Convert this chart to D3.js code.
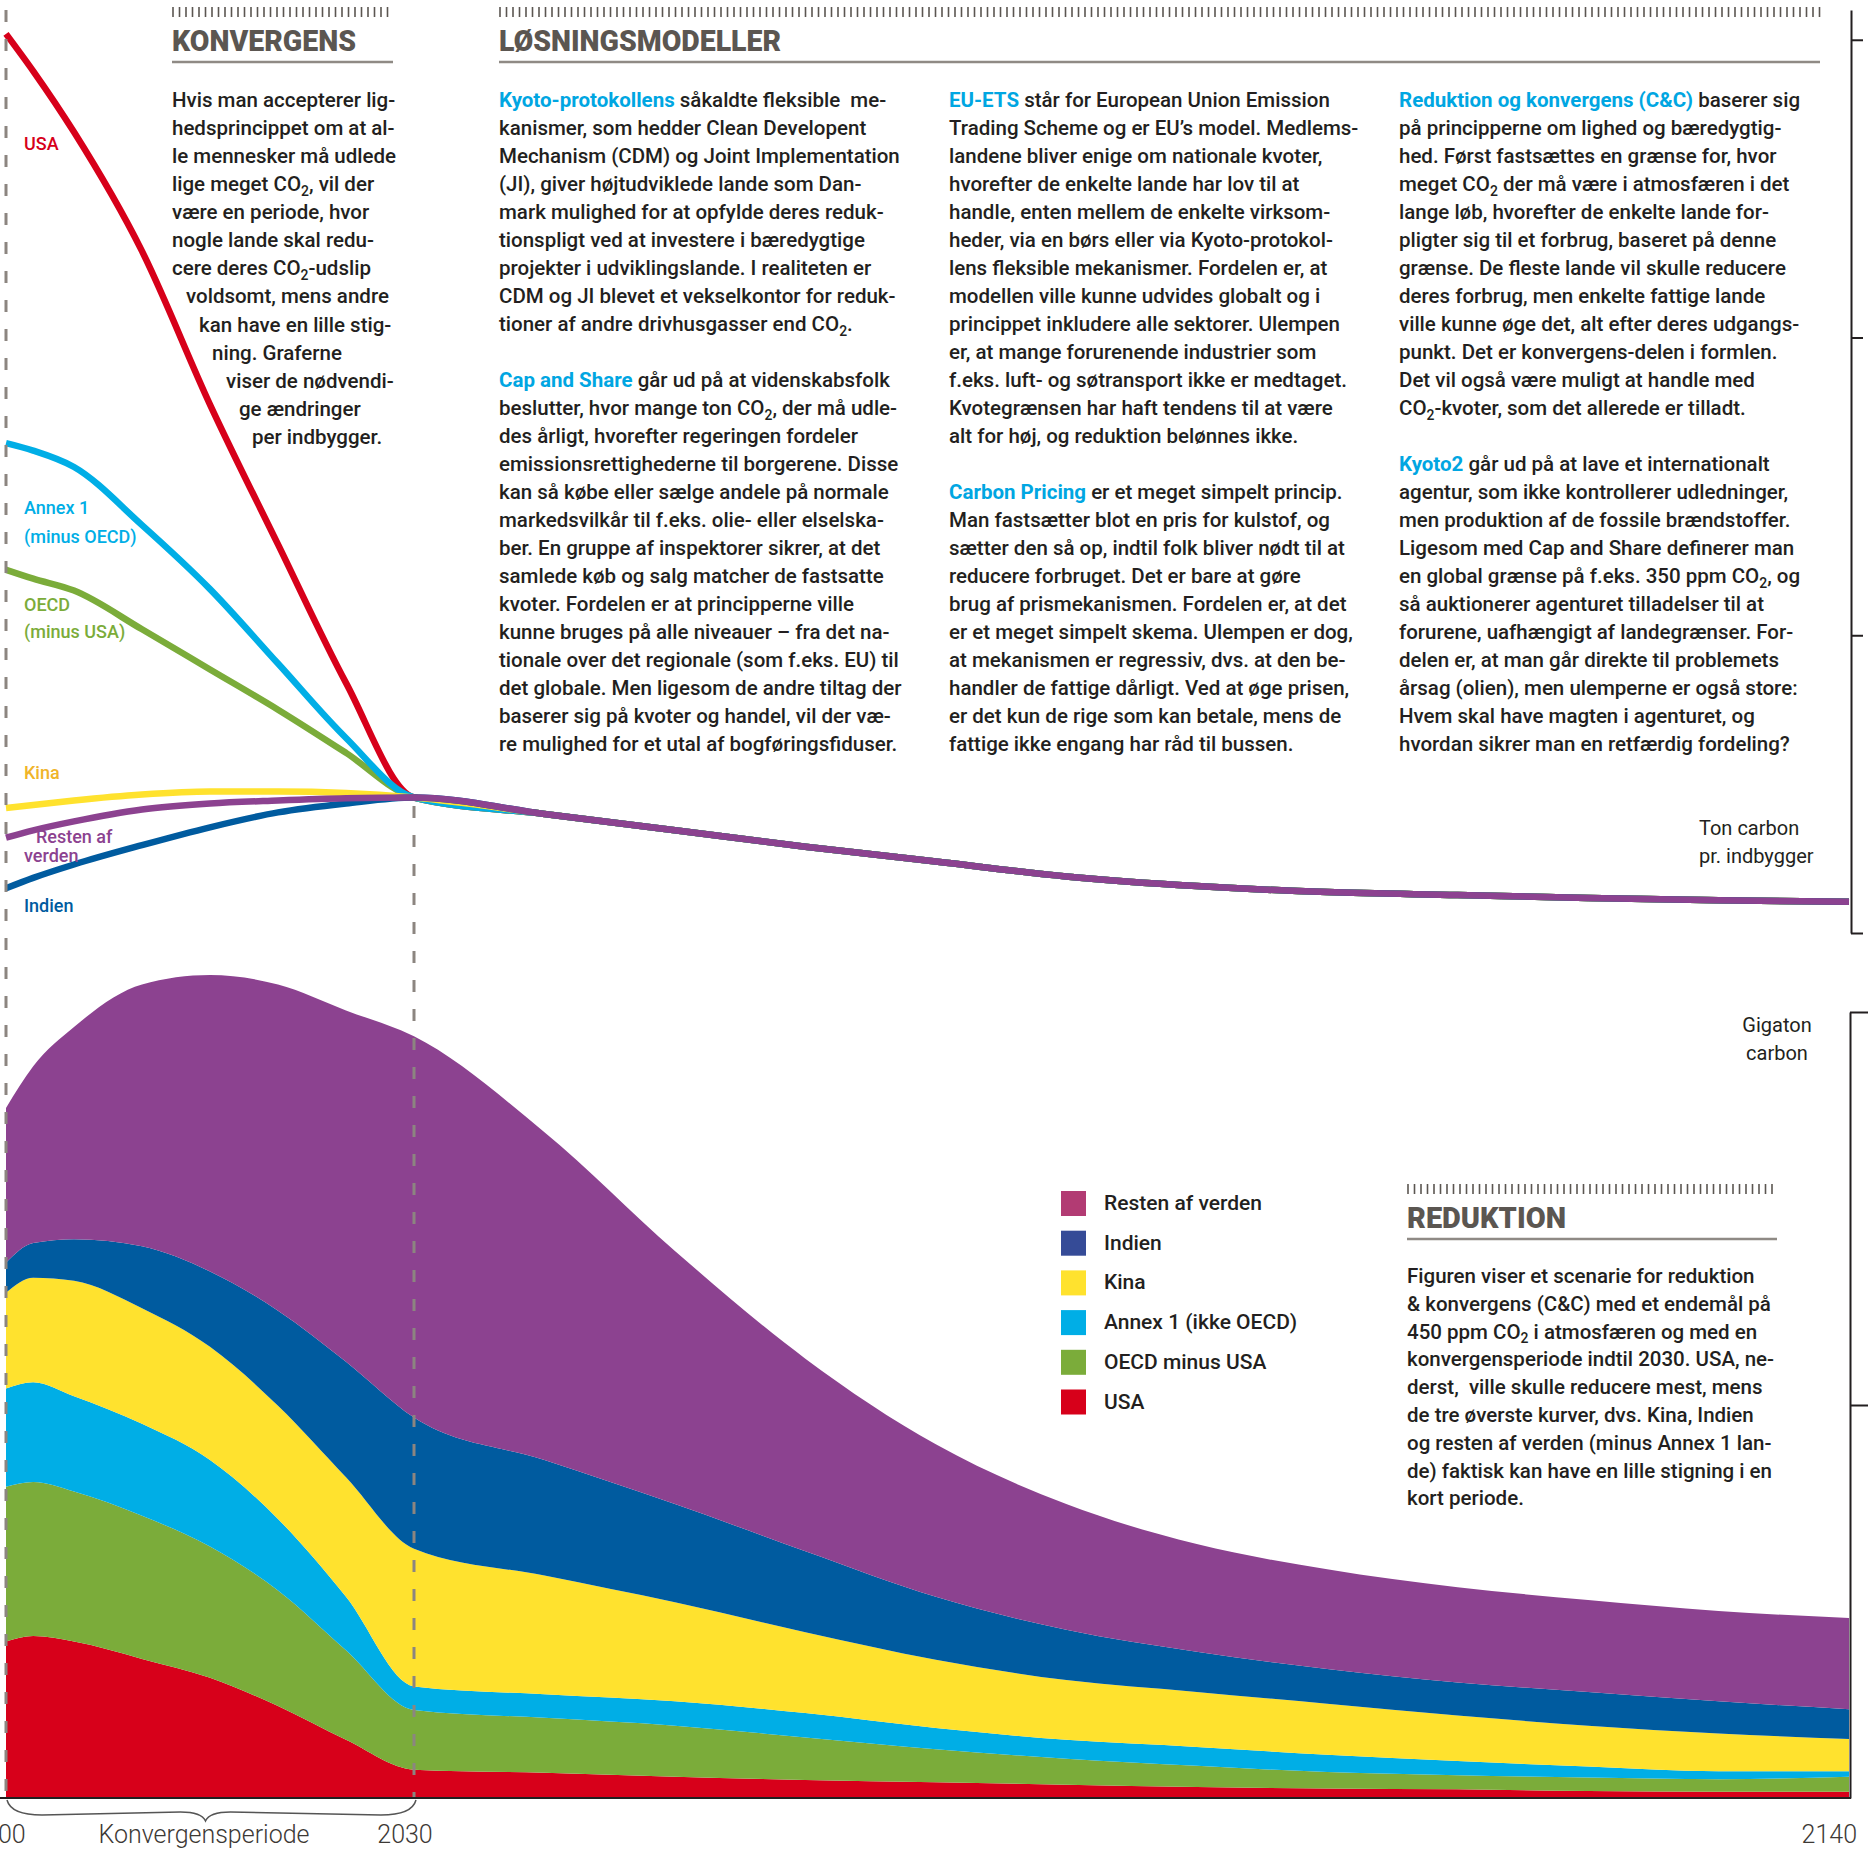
<!DOCTYPE html>
<html>
<head>
<meta charset="utf-8">
<script src="https://cdn.jsdelivr.net/npm/d3@7"></script>
<style>
  body { margin: 0; background: #fff; }
  svg { display: block; }
  text { font-family: Roboto, "Noto Sans", sans-serif; }
</style>
</head>
<body>
<div id="chart"></div>
<script>
const W = 1868, H = 1852;

// years shared by both panels
const years = [2000, 2002, 2005, 2010, 2015, 2020, 2025, 2030, 2040, 2050, 2060, 2070, 2080, 2090, 2100, 2110, 2120, 2130, 2140];

// ton carbon pr. indbygger (top panel)
const capUSA    = [6.04, 5.79, 5.38, 4.58, 3.55, 2.61, 1.68, 0.91, 0.80, 0.69, 0.58, 0.48, 0.38, 0.315, 0.275, 0.255, 0.235, 0.22, 0.21];
const capAnnex  = [3.29, 3.24, 3.13, 2.74, 2.31, 1.81, 1.31, 0.91, 0.80, 0.69, 0.58, 0.48, 0.38, 0.315, 0.275, 0.255, 0.235, 0.22, 0.21];
const capOECD   = [2.44, 2.38, 2.30, 2.04, 1.77, 1.50, 1.21, 0.91, 0.80, 0.69, 0.58, 0.48, 0.38, 0.315, 0.275, 0.255, 0.235, 0.22, 0.21];
const capKina   = [0.84, 0.86, 0.89, 0.93, 0.95, 0.95, 0.94, 0.91, 0.80, 0.69, 0.58, 0.48, 0.38, 0.315, 0.275, 0.255, 0.235, 0.22, 0.21];
const capResten = [0.64, 0.69, 0.75, 0.83, 0.87, 0.89, 0.905, 0.91, 0.80, 0.69, 0.58, 0.48, 0.38, 0.315, 0.275, 0.255, 0.235, 0.22, 0.21];
const capIndien = [0.30, 0.37, 0.46, 0.59, 0.71, 0.81, 0.87, 0.91, 0.80, 0.69, 0.58, 0.48, 0.38, 0.315, 0.275, 0.255, 0.235, 0.22, 0.21];

// gigaton carbon (bottom panel, stacked bottom -> top)
const gtUSA    = [1.99, 2.06, 1.99, 1.77, 1.53, 1.17, 0.74, 0.36, 0.32, 0.27, 0.23, 0.20, 0.17, 0.14, 0.12, 0.11, 0.09, 0.08, 0.08];
const gtOECD   = [1.97, 1.96, 1.91, 1.82, 1.67, 1.47, 1.14, 0.76, 0.70, 0.65, 0.54, 0.42, 0.33, 0.27, 0.21, 0.18, 0.17, 0.16, 0.19];
const gtAnnex  = [1.25, 1.27, 1.21, 1.17, 1.10, 0.91, 0.68, 0.30, 0.30, 0.31, 0.31, 0.27, 0.24, 0.24, 0.22, 0.18, 0.14, 0.10, 0.07];
const gtKina   = [1.22, 1.33, 1.47, 1.47, 1.44, 1.44, 1.52, 1.75, 1.51, 1.26, 1.03, 0.87, 0.76, 0.70, 0.65, 0.58, 0.52, 0.48, 0.41];
const gtIndien = [0.38, 0.44, 0.53, 0.79, 0.96, 1.21, 1.47, 1.67, 1.47, 1.25, 1.03, 0.80, 0.64, 0.51, 0.44, 0.42, 0.43, 0.41, 0.38];
const gtResten = [1.97, 2.25, 2.70, 3.33, 3.77, 4.15, 4.47, 4.85, 4.17, 3.22, 2.45, 1.94, 1.60, 1.37, 1.27, 1.21, 1.17, 1.15, 1.16];

const axisYears = [2000, 2030, 2140];
const legendNames = ['Resten af verden', 'Indien', 'Kina', 'Annex 1 (ikke OECD)', 'OECD minus USA', 'USA'];

const INK = '#231f20', BLUE = '#00a6e2', HEAD = '#5b5651', DASH = '#8c8580';
const col = {usa: '#d7001a', oecd: '#7bac3a', annex: '#00aee6', kina: '#ffe22e', indien: '#005b9f', resten: '#8c4290'};
const legendColors = ['#b23b73', '#354b97', '#ffe22e', '#00aee6', '#7bac3a', '#d7001a'];

const svg = d3.select('#chart').append('svg').attr('width', W).attr('height', H);

const x = d3.scaleLinear().domain(axisYears).range([6, 414, 1849]);
const yCap = d3.scaleLinear().domain([0, 6.2]).range([933, 10]);
const yGt = d3.scaleLinear().domain([0, 10]).range([1798, 1012]);

// ---- bottom: stacked areas
const keys = ['usa', 'oecd', 'annex', 'kina', 'indien', 'resten'];
const series = {usa: gtUSA, oecd: gtOECD, annex: gtAnnex, kina: gtKina, indien: gtIndien, resten: gtResten};
const table = years.map((yr, i) => {
  const row = {year: yr};
  keys.forEach(k => row[k] = series[k][i]);
  return row;
});
const stacked = d3.stack().keys(keys)(table);
const area = d3.area()
  .x(d => x(d.data.year))
  .y0(d => yGt(d[0]))
  .y1(d => yGt(d[1]))
  .curve(d3.curveMonotoneX);
svg.append('g').selectAll('path').data(stacked).join('path')
  .attr('d', area)
  .attr('fill', d => col[d.key]);

// ---- top: per capita lines
const capSeries = [
  ['usa', capUSA], ['oecd', capOECD], ['annex', capAnnex],
  ['kina', capKina], ['indien', capIndien], ['resten', capResten]
];
const line = d3.line()
  .x((d, i) => x(years[i]))
  .y(d => yCap(d))
  .curve(d3.curveMonotoneX);
svg.append('g').selectAll('path').data(capSeries).join('path')
  .attr('d', d => line(d[1]))
  .attr('fill', 'none')
  .attr('stroke', d => col[d[0]])
  .attr('stroke-width', 6.5)
  .attr('stroke-linecap', 'butt');

// line labels
const lineLabels = [
  ['USA', 24, 150, col.usa],
  ['Annex 1', 24, 514, col.annex],
  ['(minus OECD)', 24, 543, col.annex],
  ['OECD', 24, 611, col.oecd],
  ['(minus USA)', 24, 638, col.oecd],
  ['Kina', 24, 779, '#f0b429'],
  ['Resten af', 36, 843, col.resten],
  ['verden', 24, 862, col.resten],
  ['Indien', 24, 912, col.indien]
];
svg.append('g').selectAll('text').data(lineLabels).join('text')
  .attr('x', d => d[1]).attr('y', d => d[2])
  .attr('fill', d => d[3])
  .attr('font-size', 18).attr('font-weight', 500)
  .text(d => d[0]);

// dashed guides
svg.append('line').attr('x1', x(2000)).attr('x2', x(2000)).attr('y1', 10).attr('y2', 1798)
  .attr('stroke', DASH).attr('stroke-width', 3).attr('stroke-dasharray', '12,17');
svg.append('line').attr('x1', x(2030)).attr('x2', x(2030)).attr('y1', 806).attr('y2', 1798)
  .attr('stroke', DASH).attr('stroke-width', 3).attr('stroke-dasharray', '12,17');

// axes
const axTop = svg.append('g').attr('transform', 'translate(1851,0)')
  .call(d3.axisRight(yCap).tickValues([0, 2, 4, 6]).tickSize(12).tickSizeOuter(0).tickFormat(''));
const axBot = svg.append('g').attr('transform', 'translate(1850,0)')
  .call(d3.axisRight(yGt).tickValues([5, 10]).tickSize(18).tickSizeOuter(0).tickFormat(''));
[axTop, axBot].forEach(a => a.selectAll('path, line').attr('stroke', INK).attr('stroke-width', 2));
svg.append('line').attr('x1', 0).attr('x2', 1851).attr('y1', yGt(0)).attr('y2', yGt(0))
  .attr('stroke', INK).attr('stroke-width', 2);

// unit labels
svg.append('text').attr('x', 1699).attr('y', 835).attr('font-size', 20).attr('fill', INK).text('Ton carbon');
svg.append('text').attr('x', 1699).attr('y', 863).attr('font-size', 20).attr('fill', INK).text('pr. indbygger');
svg.append('text').attr('x', 1777).attr('y', 1032).attr('font-size', 20).attr('fill', INK).attr('text-anchor', 'middle').text('Gigaton');
svg.append('text').attr('x', 1777).attr('y', 1060).attr('font-size', 20).attr('fill', INK).attr('text-anchor', 'middle').text('carbon');

// x labels
const xl = svg.append('g').attr('font-size', 25).attr('font-weight', 300).attr('fill', '#3d3935');
xl.append('text').attr('x', x(2000) - 8).attr('y', 1843).attr('text-anchor', 'middle').text('2000');
xl.append('text').attr('x', x(2030) - 9).attr('y', 1843).attr('text-anchor', 'middle').text('2030');
xl.append('text').attr('x', x(2140) + 8).attr('y', 1843).attr('text-anchor', 'end').text('2140');
xl.append('text').attr('x', (x(2000) + x(2030)) / 2 - 6).attr('y', 1843).attr('text-anchor', 'middle').text('Konvergensperiode');

// brace
const bx0 = x(2000) + 1, bx1 = x(2030) + 2, bm = (bx0 + bx1) / 2 - 6;
svg.append('path')
  .attr('d', `M${bx0},1800 Q${bx0 + 4},1815 ${bx0 + 35},1815 L${bm - 25},1812 Q${bm - 4},1812 ${bm},1821 Q${bm + 4},1812 ${bm + 25},1812 L${bx1 - 35},1815 Q${bx1 - 4},1815 ${bx1},1800`)
  .attr('fill', 'none').attr('stroke', '#555').attr('stroke-width', 1.5);

// legend
const lg = svg.append('g').selectAll('g').data(legendNames).join('g')
  .attr('transform', (d, i) => `translate(1061,${1191 + i * 39.7})`);
lg.append('rect').attr('width', 25).attr('height', 25).attr('fill', (d, i) => legendColors[i]);
lg.append('text').attr('x', 43).attr('y', 19).attr('font-size', 21).attr('font-weight', 500).attr('fill', INK).text(d => d);

// ---- text blocks
function fillRich(t, str, fs) {
  const parts = str.split(/(\*\*[^*]+\*\*|₂)/).filter(s => s.length);
  let sub = false;
  parts.forEach(p => {
    if (p === '₂') {
      t.append('tspan').attr('dy', fs * 0.22).attr('font-size', fs * 0.68).text('2');
      sub = true;
    } else {
      const ts = t.append('tspan').text(p.replace(/\*\*/g, ''));
      if (sub) { ts.attr('dy', -fs * 0.22); sub = false; }
      if (p.startsWith('**')) ts.attr('font-weight', 700).attr('fill', BLUE);
    }
  });
}

function block(lines, x0, y0, lh, right, fs, indents) {
  const g = svg.append('g').attr('font-size', fs).attr('fill', INK).attr('font-weight', 500);
  lines.forEach((ln, i) => {
    if (!ln) return;
    const lx = x0 + (indents ? indents[i] : 0);
    const t = g.append('text').attr('x', lx).attr('y', y0 + i * lh).style('white-space', 'pre');
    fillRich(t, ln, fs);
    const w = t.node().getComputedTextLength();
    if (w > right - lx) t.attr('textLength', right - lx).attr('lengthAdjust', 'spacingAndGlyphs');
  });
}

function heading(label, x0, x1, yTop, w) {
  const g = svg.append('g');
  g.selectAll('line').data(d3.range(x0 + 1, x1, 6.5)).join('line')
    .attr('x1', d => d).attr('x2', d => d).attr('y1', yTop).attr('y2', yTop + 10)
    .attr('stroke', HEAD).attr('stroke-width', 1.6);
  g.append('text').attr('x', x0).attr('y', yTop + 44).attr('font-size', 30).attr('font-weight', 900)
    .attr('fill', HEAD).attr('textLength', w).attr('lengthAdjust', 'spacingAndGlyphs').text(label);
  g.append('line').attr('x1', x0).attr('x2', x1).attr('y1', yTop + 55).attr('y2', yTop + 55)
    .attr('stroke', '#8f8a85').attr('stroke-width', 2.5);
}

heading('KONVERGENS', 172, 393, 7, 184);
heading('LØSNINGSMODELLER', 499, 1820, 7, 282);
heading('REDUKTION', 1407, 1777, 1184, 159);

block([
  'Hvis man accepterer lig-',
  'hedsprincippet om at al-',
  'le mennesker må udlede',
  'lige meget CO₂, vil der',
  'være en periode, hvor',
  'nogle lande skal redu-',
  'cere deres CO₂-udslip',
  'voldsomt, mens andre',
  'kan have en lille stig-',
  'ning. Graferne',
  'viser de nødvendi-',
  'ge ændringer',
  'per indbygger.'
], 172, 107, 28.07, 404, 20.5, [0, 0, 0, 0, 0, 0, 0, 14, 27, 40, 54, 67, 80]);

block([
  '**Kyoto-protokollens** såkaldte fleksible  me-',
  'kanismer, som hedder Clean Developent',
  'Mechanism (CDM) og Joint Implementation',
  '(JI), giver højtudviklede lande som Dan-',
  'mark mulighed for at opfylde deres reduk-',
  'tionspligt ved at investere i bæredygtige',
  'projekter i udviklingslande. I realiteten er',
  'CDM og JI blevet et vekselkontor for reduk-',
  'tioner af andre drivhusgasser end CO₂.',
  '',
  '**Cap and Share** går ud på at videnskabsfolk',
  'beslutter, hvor mange ton CO₂, der må udle-',
  'des årligt, hvorefter regeringen fordeler',
  'emissionsrettighederne til borgerene. Disse',
  'kan så købe eller sælge andele på normale',
  'markedsvilkår til f.eks. olie- eller elselska-',
  'ber. En gruppe af inspektorer sikrer, at det',
  'samlede køb og salg matcher de fastsatte',
  'kvoter. Fordelen er at principperne ville',
  'kunne bruges på alle niveauer – fra det na-',
  'tionale over det regionale (som f.eks. EU) til',
  'det globale. Men ligesom de andre tiltag der',
  'baserer sig på kvoter og handel, vil der væ-',
  're mulighed for et utal af bogføringsfiduser.'
], 499, 107, 28, 916, 20.5);

block([
  '**EU-ETS** står for European Union Emission',
  'Trading Scheme og er EU’s model. Medlems-',
  'landene bliver enige om nationale kvoter,',
  'hvorefter de enkelte lande har lov til at',
  'handle, enten mellem de enkelte virksom-',
  'heder, via en børs eller via Kyoto-protokol-',
  'lens fleksible mekanismer. Fordelen er, at',
  'modellen ville kunne udvides globalt og i',
  'princippet inkludere alle sektorer. Ulempen',
  'er, at mange forurenende industrier som',
  'f.eks. luft- og søtransport ikke er medtaget.',
  'Kvotegrænsen har haft tendens til at være',
  'alt for høj, og reduktion belønnes ikke.',
  '',
  '**Carbon Pricing** er et meget simpelt princip.',
  'Man fastsætter blot en pris for kulstof, og',
  'sætter den så op, indtil folk bliver nødt til at',
  'reducere forbruget. Det er bare at gøre',
  'brug af prismekanismen. Fordelen er, at det',
  'er et meget simpelt skema. Ulempen er dog,',
  'at mekanismen er regressiv, dvs. at den be-',
  'handler de fattige dårligt. Ved at øge prisen,',
  'er det kun de rige som kan betale, mens de',
  'fattige ikke engang har råd til bussen.'
], 949, 107, 28, 1372, 20.5);

block([
  '**Reduktion og konvergens (C&C)** baserer sig',
  'på principperne om lighed og bæredygtig-',
  'hed. Først fastsættes en grænse for, hvor',
  'meget CO₂ der må være i atmosfæren i det',
  'lange løb, hvorefter de enkelte lande for-',
  'pligter sig til et forbrug, baseret på denne',
  'grænse. De fleste lande vil skulle reducere',
  'deres forbrug, men enkelte fattige lande',
  'ville kunne øge det, alt efter deres udgangs-',
  'punkt. Det er konvergens-delen i formlen.',
  'Det vil også være muligt at handle med',
  'CO₂-kvoter, som det allerede er tilladt.',
  '',
  '**Kyoto2** går ud på at lave et internationalt',
  'agentur, som ikke kontrollerer udledninger,',
  'men produktion af de fossile brændstoffer.',
  'Ligesom med Cap and Share definerer man',
  'en global grænse på f.eks. 350 ppm CO₂, og',
  'så auktionerer agenturet tilladelser til at',
  'forurene, uafhængigt af landegrænser. For-',
  'delen er, at man går direkte til problemets',
  'årsag (olien), men ulemperne er også store:',
  'Hvem skal have magten i agenturet, og',
  'hvordan sikrer man en retfærdig fordeling?'
], 1399, 107, 28, 1824, 20.5);

block([
  'Figuren viser et scenarie for reduktion',
  '& konvergens (C&C) med et endemål på',
  '450 ppm CO₂ i atmosfæren og med en',
  'konvergensperiode indtil 2030. USA, ne-',
  'derst,  ville skulle reducere mest, mens',
  'de tre øverste kurver, dvs. Kina, Indien',
  'og resten af verden (minus Annex 1 lan-',
  'de) faktisk kan have en lille stigning i en',
  'kort periode.'
], 1407, 1283, 27.8, 1790, 20.5);
</script>
</body>
</html>
